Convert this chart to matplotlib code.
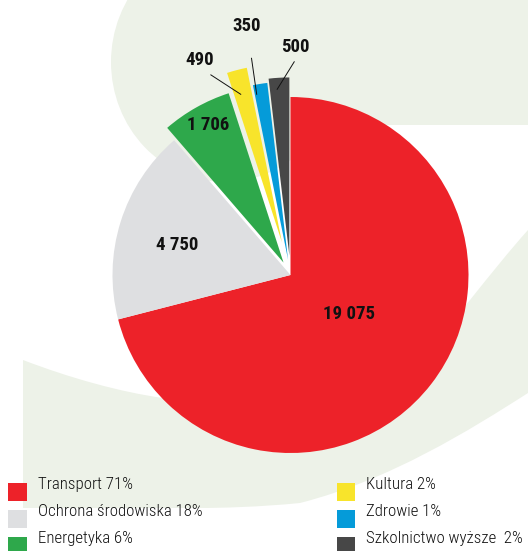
import numpy as np
import matplotlib
matplotlib.use('Agg')
import matplotlib.pyplot as plt
from matplotlib.patches import Ellipse, Rectangle, PathPatch
from matplotlib.path import Path

# Dane
categories = ['Transport', 'Ochrona środowiska', 'Energetyka',
              'Kultura', 'Zdrowie', 'Szkolnictwo wyższe ']
values = [19075, 4750, 1706, 490, 350, 500]
colors = ['#ed2229', '#dedfe1', '#2ea84b', '#f8e42b', '#059bd9', '#474747']
explode = [0, 0, 0.08, 0.19, 0.087, 0.11]

# Pozycje etykiet (kat w stopniach, promien w jednostkach kola)
label_pos = [(-32, 0.39), (164.4, 0.66), (118.4, 0.97),
             (112.7, 1.32), (99.9, 1.43), (88.9, 1.29)]
leaders = {3: ((105.4, 1.053), (111.7, 1.21)),
           4: ((100.6, 1.033), (100.2, 1.237)),
           5: ((94.1, 1.046), (89.0, 1.198))}

narrow = ['Roboto Condensed', 'DejaVu Sans']
bg_green = '#edf2e8'

W, H = 528, 551
fig = plt.figure(figsize=(W / 100, H / 100), dpi=100)
fig.patch.set_facecolor('white')

# Tlo (dekoracyjne ksztalty) w ukladzie pikseli
bg = fig.add_axes([0, 0, 1, 1])
bg.set_xlim(0, W)
bg.set_ylim(H, 0)
bg.axis('off')

bg.add_patch(Ellipse((225, 62), 228, 240, color=bg_green, lw=0))
bg.add_patch(Rectangle((225, -10), 320, 135, color=bg_green, lw=0))

verts = [(23, 360),
         (70, 378), (120, 392), (163, 398),
         (280, 415), (420, 360), (470, 300),
         (490, 275), (510, 250), (528, 230),
         (545, 210), (545, 390), (528, 393),
         (470, 430), (390, 480), (300, 503),
         (260, 507), (220, 508), (200, 508),
         (23, 508), (23, 360)]
codes = [Path.MOVETO] + [Path.CURVE4] * 9 + [Path.LINETO] * 3 + \
        [Path.CURVE4] * 6 + [Path.LINETO, Path.CLOSEPOLY]
bg.add_patch(PathPatch(Path(verts, codes), color=bg_green, lw=0))

# Legenda
total = sum(values)
col_x = [8.3, 336.7]
for i, (name, c, v) in enumerate(zip(categories, colors, values)):
    x = col_x[i // 3]
    y = 482.5 + 27 * (i % 3)
    bg.add_patch(Rectangle((x, y), 18.5, 18.5, color=c, lw=0))
    bg.text(x + 29.4, y + 6.8, f'{name} {round(100 * v / total)}%',
            family=narrow, fontsize=12.2, fontweight='light',
            color='#111111', va='baseline')

# Wykres kolowy
R = 178
cx, cy = 290.5, 275
half = 1.5 * R
ax = fig.add_axes([(cx - half) / W, (H - cy - half) / H, 2 * half / W, 2 * half / H])
wedges, _ = ax.pie(values, colors=colors, startangle=90, counterclock=False,
                   explode=explode, wedgeprops=dict(linewidth=0))
ax.set_xlim(-1.5, 1.5)
ax.set_ylim(-1.5, 1.5)
ax.axis('off')

for i, v in enumerate(values):
    ang, r = label_pos[i]
    a = np.deg2rad(ang)
    ax.text(r * np.cos(a), r * np.sin(a) - 7 / R, f'{v:,}'.replace(',', ' '),
            ha='center', va='baseline', family=narrow, fontsize=13.5,
            fontweight='bold', color='#111111')

for i, ((a1, r1), (a2, r2)) in leaders.items():
    a1, a2 = np.deg2rad(a1), np.deg2rad(a2)
    ax.plot([r1 * np.cos(a1), r2 * np.cos(a2)], [r1 * np.sin(a1), r2 * np.sin(a2)],
            color='#111111', lw=0.7)

fig.savefig('out.png', dpi=100)
